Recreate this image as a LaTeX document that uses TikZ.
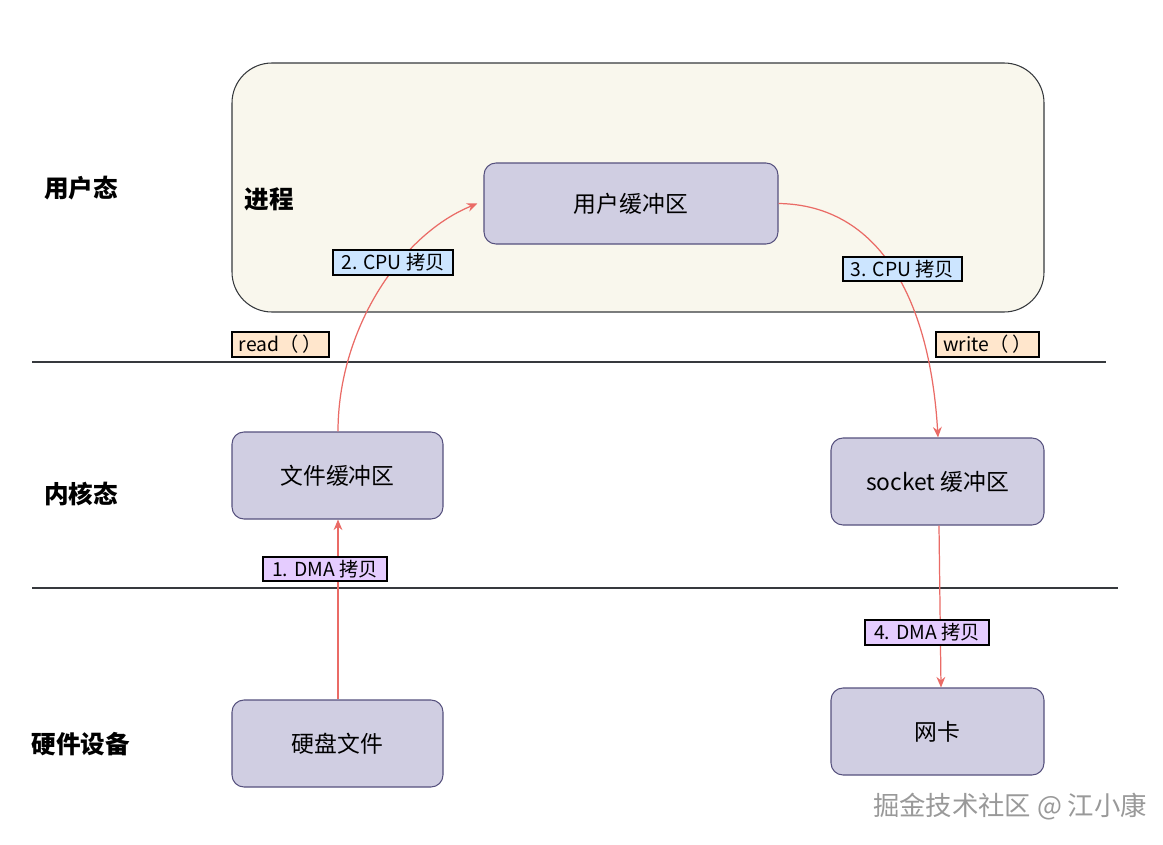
\documentclass[tikz,border=0pt]{standalone}
\usepackage{fontspec}
\setmainfont{Noto Sans CJK SC}
\usetikzlibrary{arrows.meta}
\definecolor{procfill}{HTML}{F9F7ED}
\definecolor{procdraw}{HTML}{36393D}
\definecolor{boxfill}{HTML}{D0CEE2}
\definecolor{boxdraw}{HTML}{56517E}
\definecolor{arr}{HTML}{EA6B66}
\definecolor{cpufill}{HTML}{CCE5FF}
\definecolor{dmafill}{HTML}{E5CCFF}
\definecolor{callfill}{HTML}{FFE6CC}
\begin{document}
\begin{tikzpicture}[x=0.02cm,y=-0.02cm,
  buf/.style={draw=boxdraw,fill=boxfill,rounded corners=12*0.02cm,line width=0.6pt,font=\fontsize{13}{15}\selectfont},
  tag/.style={draw=black,line width=0.6pt,inner sep=0pt,font=\fontsize{11}{12}\selectfont},
  layer/.style={font=\fontsize{14}{16}\selectfont\bfseries},
  flow/.style={draw=arr,line width=0.7pt,-{Stealth[length=6pt,width=5pt]}}]
\useasboundingbox (0,0) rectangle (1163,845);
\fill[white] (0,0) rectangle (1163,845);
% process area
\draw[fill=procfill,draw=procdraw,line width=0.6pt,rounded corners=40*0.02cm] (232,63) rectangle (1044,312);
% separators
\draw[draw=procdraw,line width=0.7pt] (32,362) coordinate (l1a) -- (1106,362) coordinate (l1b);
\draw[draw=procdraw,line width=0.7pt] (32,588) coordinate (l2a) -- (1118,588) coordinate (l2b);
% layer labels
\node[layer] (uL) at (81,188) {用户态};
\node[layer] (kL) at (81,494) {内核态};
\node[layer] (hL) at (81,744) {硬件设备};
\node[layer] (proc) at (269,199) {进程};
% buffers
\node[buf,minimum width=294*0.02cm,minimum height=81*0.02cm] (ubuf) at (631,203.5) {用户缓冲区};
\node[buf,minimum width=211*0.02cm,minimum height=87*0.02cm] (fbuf) at (337.5,475.5) {文件缓冲区};
\node[buf,minimum width=213*0.02cm,minimum height=87*0.02cm] (sbuf) at (937.5,481.5) {socket 缓冲区};
\node[buf,minimum width=211*0.02cm,minimum height=87*0.02cm] (disk) at (337.5,743.5) {硬盘文件};
\node[buf,minimum width=213*0.02cm,minimum height=87*0.02cm] (nic) at (937.5,731.5) {网卡};
% arrows
\draw[flow] (disk.north -| 338,0) -- (fbuf.south -| 338,0);
\draw[flow] (fbuf.north -| 338,0) .. controls (338,330) and (400,235) .. ([xshift=-6*0.02cm]ubuf.west);
\draw[flow] (ubuf.east) .. controls (880,205) and (930,300) .. (sbuf.north -| 938,0);
\draw[flow] (sbuf.south -| 939,0) -- (nic.north -| 941,0);
% tags
\node[tag,fill=cpufill,minimum width=120*0.02cm,minimum height=25*0.02cm] (t2) at (393,262.5) {2. CPU 拷贝};
\node[tag,fill=cpufill,minimum width=119*0.02cm,minimum height=24*0.02cm] (t3) at (902.5,269) {3. CPU 拷贝};
\node[tag,fill=dmafill,minimum width=124*0.02cm,minimum height=24*0.02cm] (t1) at (325,569) {1. DMA 拷贝};
\node[tag,fill=dmafill,minimum width=124*0.02cm,minimum height=25*0.02cm] (t4) at (927,632.5) {4. DMA 拷贝};
\node[tag,fill=callfill,minimum width=97*0.02cm,minimum height=25*0.02cm] (rd) at (280.5,344.5) {read（ ）};
\node[tag,fill=callfill,minimum width=103*0.02cm,minimum height=25*0.02cm] (wr) at (987.5,344.5) {write（ ）};
% watermark
\node[text=gray!80,font=\fontsize{15}{17}\selectfont] (wm) at (1010,807) {掘金技术社区 @ 江小康};
\end{tikzpicture}
\end{document}
